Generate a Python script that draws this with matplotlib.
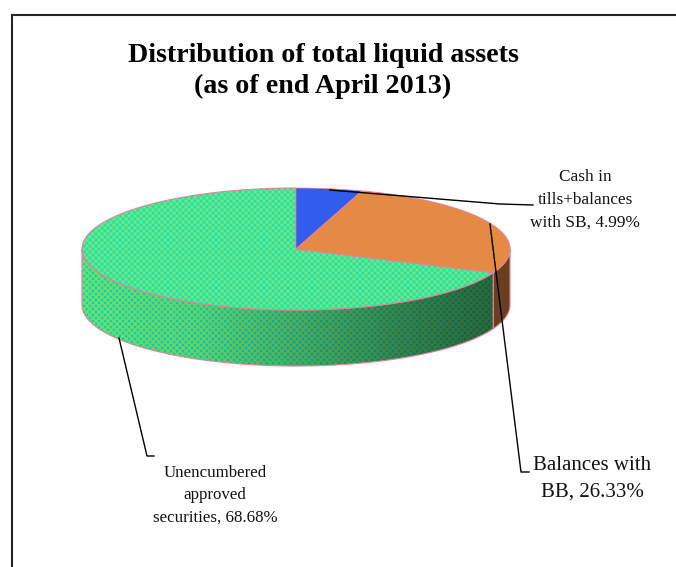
import numpy as np
import matplotlib
matplotlib.use("Agg")
import matplotlib.pyplot as plt
from matplotlib.patches import Polygon

# Datos del grafico
labels = ["Cash in\ntills+balances\nwith SB, 4.99%",
          "Balances with\nBB, 26.33%",
          "Unencumbered\napproved\nsecurities, 68.68%"]
values = [4.99, 26.33, 68.68]
title = "Distribution of total liquid assets\n(as of end April 2013)"

# Geometria de la torta en pixeles
cx, cy = 296, 249
a, b = 214, 61
depth = 56
edge = "#e8809a"
blue = "#325ceb"
orange = "#e48a44"
orange_side = "#69401f"

plt.rcParams["font.family"] = ["Liberation Serif", "DejaVu Serif"]

fig = plt.figure(figsize=(6.76, 5.67), dpi=100)
ax = fig.add_axes([0, 0, 1, 1])
ax.set_xlim(0, 676)
ax.set_ylim(567, 0)
ax.axis("off")


def arc(start, end, dy=0):
    # angulos en grados, horario desde las 12
    th = np.radians(np.linspace(start, end, 200))
    return np.column_stack([cx + a * np.sin(th), cy - b * np.cos(th) + dy])


# Textura de puntos verde / cian / amarillo
xx, yy = np.meshgrid(np.arange(676) + 0.5, np.arange(567) + 0.5)


def texture(base, dot1, dot2, shade=None):
    t = np.cos(np.pi * xx / 3) * np.cos(np.pi * yy / 3)
    t = np.clip(t * 1.4, -1, 1)[..., None]
    img = np.array(base) + np.clip(t, 0, 1) * (np.array(dot1) - np.array(base))
    img = img + np.clip(-t, 0, 1) * (np.array(dot2) - np.array(base))
    if shade is not None:
        img = img * shade[..., None]
    return np.clip(img, 0, 255).astype(np.uint8)


cum = np.cumsum(values) / np.sum(values) * 360
ang_blue, ang_orange = cum[0], cum[1]

# Lado: verde hasta el borde izquierdo, naranja hasta el derecho
shade = np.interp(xx, [82, 200, 300, 400, 495], [1.0, 0.93, 0.76, 0.58, 0.45])
side_pts = np.vstack([arc(ang_orange, 270), arc(ang_orange, 270, depth)[::-1]])
side_patch = Polygon(side_pts, closed=True, facecolor="none", edgecolor=edge, linewidth=0.8, zorder=2)
ax.add_patch(side_patch)
im = ax.imshow(texture((90, 222, 130), (0, 215, 195), (125, 226, 85), shade),
               extent=(0, 676, 567, 0), aspect="auto", zorder=1)
im.set_clip_path(side_patch)

side2 = np.vstack([arc(90, ang_orange), arc(90, ang_orange, depth)[::-1]])
ax.add_patch(Polygon(side2, closed=True, facecolor=orange_side, edgecolor=edge, linewidth=0.8, zorder=2))

# Cara superior
centre = np.array([[cx, cy]])
top_green = Polygon(np.vstack([centre, arc(ang_orange, 360)]), closed=True,
                    facecolor="none", edgecolor=edge, linewidth=0.8, zorder=4)
ax.add_patch(top_green)
im2 = ax.imshow(texture((75, 228, 150), (30, 224, 178), (120, 234, 115)),
                extent=(0, 676, 567, 0), aspect="auto", zorder=3)
im2.set_clip_path(top_green)

ax.add_patch(Polygon(np.vstack([centre, arc(0, ang_blue)]), closed=True,
                     facecolor=blue, edgecolor=edge, linewidth=0.5, zorder=4))
ax.add_patch(Polygon(np.vstack([centre, arc(ang_blue, ang_orange)]), closed=True,
                     facecolor=orange, edgecolor=edge, linewidth=0.8, zorder=4))

# Marco: solo arriba e izquierda
ax.plot([12, 12, 676], [567, 15, 15], color="#262626", lw=1.5, zorder=6, solid_joinstyle="miter")

# Lineas guia
ax.plot([330, 500, 533], [190, 204, 205], color="black", lw=1.0, zorder=6)
ax.plot([490, 521, 529], [224, 472, 472], color="black", lw=1.0, zorder=6)
ax.plot([119, 147, 154], [338, 456, 456], color="black", lw=1.0, zorder=6)

# Textos
ax.text(323, 71, title, ha="center", va="center", fontsize=20.2, fontweight="bold",
        linespacing=1.35, color="black", zorder=7)
ax.text(585, 200, labels[0], ha="center", va="center", fontsize=12.4, linespacing=1.55,
        color="#111111", zorder=7)
ax.text(592, 479, labels[1], ha="center", va="center", fontsize=15, linespacing=1.52,
        color="#111111", zorder=7)
ax.text(215, 495, labels[2], ha="center", va="center", fontsize=12.2, linespacing=1.52,
        color="#111111", zorder=7)

fig.savefig("out.png", dpi=100)
